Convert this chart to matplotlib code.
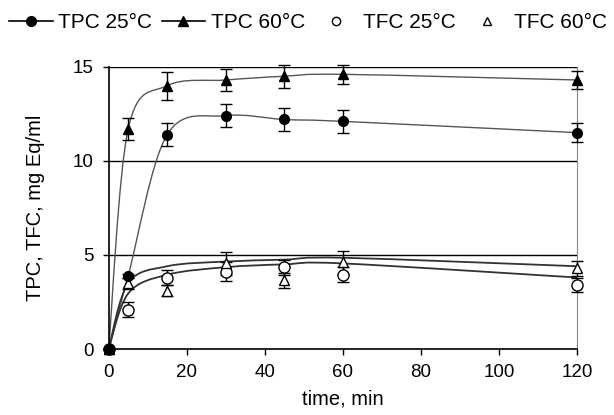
import numpy as np
import matplotlib.pyplot as plt
from matplotlib.path import Path
from matplotlib.patches import PathPatch
from matplotlib.lines import Line2D

plt.rcParams['font.family'] = ['Liberation Sans', 'DejaVu Sans']

# Data
time = [0, 5, 15, 30, 45, 60, 120]

tpc25 = [0, 3.9, 11.4, 12.4, 12.2, 12.1, 11.5]
tpc25_err = [0, 0.1, 0.6, 0.6, 0.6, 0.6, 0.5]
tpc60 = [0, 11.7, 14.0, 14.3, 14.5, 14.6, 14.3]
tpc60_err = [0, 0.6, 0.75, 0.6, 0.6, 0.5, 0.5]

tfc25 = [0, 2.1, 3.8, 4.1, 4.35, 3.95, 3.4]
tfc25_err = [0, 0.4, 0.4, 0.5, 0.4, 0.4, 0.35]
tfc60 = [0, 3.5, 3.1, 4.55, 3.65, 4.6, 4.3]
tfc60_err = [0, 0.3, 0.3, 0.6, 0.4, 0.6, 0.4]

# fitted curves drawn through the TFC points
tfc25_fit = [0, 2.95, 3.95, 4.35, 4.5, 4.55, 3.8]
tfc60_fit = [0, 3.5, 4.4, 4.65, 4.75, 4.85, 4.4]


def smooth_path(x, y):
    # Excel-like smoothed line (Catmull-Rom as cubic Bezier)
    pts = np.column_stack([x, y]).astype(float)
    n = len(pts)
    verts = [pts[0]]
    codes = [Path.MOVETO]
    for i in range(n - 1):
        p0 = pts[max(i - 1, 0)]
        p1 = pts[i]
        p2 = pts[i + 1]
        p3 = pts[min(i + 2, n - 1)]
        c1 = p1 + (p2 - p0) / 6.0
        c2 = p2 - (p3 - p1) / 6.0
        verts += [c1, c2, p2]
        codes += [Path.CURVE4] * 3
    return Path(verts, codes)


fig = plt.figure(figsize=(6.14, 4.15), dpi=100)
ax = fig.add_axes([0.177, 0.159, 0.763, 0.68])

for yy in [5, 10, 15]:
    ax.axhline(yy, color='black', lw=1.0, zorder=1)

for yv, col, lw in [(tpc25, '#555555', 1.0), (tpc60, '#555555', 1.0),
                    (tfc25_fit, '#333333', 1.3), (tfc60_fit, '#333333', 1.3)]:
    ax.add_patch(PathPatch(smooth_path(time, yv), fill=False, edgecolor=col,
                           lw=lw, zorder=2))

ebkw = dict(capsize=4, elinewidth=1, capthick=1, clip_on=False)
ax.errorbar(time, tpc25, yerr=tpc25_err, fmt='o', color='black', ms=7,
            zorder=4, **ebkw)
ax.errorbar(time, tpc60, yerr=tpc60_err, fmt='^', color='black', ms=7,
            zorder=4, **ebkw)
ax.errorbar(time, tfc25, yerr=tfc25_err, fmt='o', color='black', mfc='white',
            ms=8, zorder=3, **ebkw)
ax.errorbar(time, tfc60, yerr=tfc60_err, fmt='^', color='black', mfc='white',
            ms=7, zorder=3, **ebkw)

ax.set_xlim(0, 120)
ax.set_ylim(0, 15)
ax.set_xticks([0, 20, 40, 60, 80, 100, 120])
ax.set_yticks([0, 5, 10, 15])
ax.tick_params(direction='out', length=4, width=1, labelsize=13.5,
               color='black', pad=7)
ax.spines['top'].set_visible(False)
ax.spines['right'].set_color('#888888')
ax.spines['left'].set_linewidth(1.2)
ax.spines['bottom'].set_linewidth(1.2)
ax.set_xlabel('time, min', fontsize=14.5, labelpad=6)
ax.set_ylabel('TPC, TFC, mg Eq/ml', fontsize=14.5, labelpad=20)

handles = [
    Line2D([], [], color='black', lw=1.2, marker='o', ms=7),
    Line2D([], [], color='black', lw=1.2, marker='^', ms=7),
    Line2D([], [], color='black', lw=0, marker='o', mfc='white', ms=6),
    Line2D([], [], color='black', lw=0, marker='^', mfc='white', ms=6),
]
labels = ['TPC 25°C', 'TPC 60°C', 'TFC 25°C', 'TFC 60°C']
fig.legend(handles, labels, loc='center left', bbox_to_anchor=(0.015, 0.945),
           ncol=4, frameon=False, fontsize=15, handlelength=2.1,
           handletextpad=0.25, columnspacing=0.45, borderpad=0, borderaxespad=0)

fig.savefig('out.png', dpi=100)
